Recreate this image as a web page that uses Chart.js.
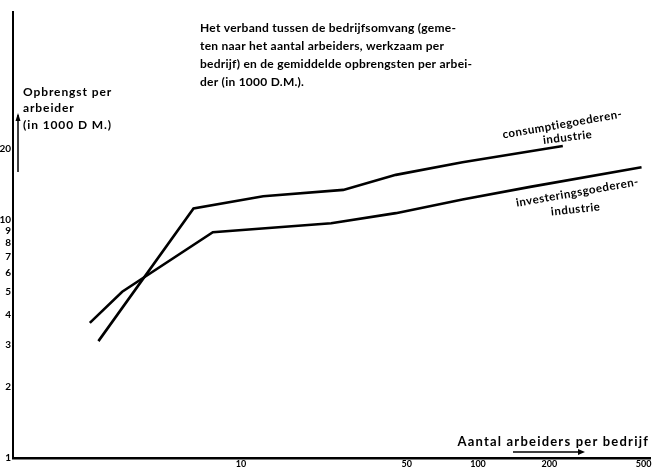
<!DOCTYPE html>
<html>
<head>
<meta charset="utf-8">
<script src="https://cdn.jsdelivr.net/npm/chart.js@4/dist/chart.umd.min.js"></script>
<style>
  body { margin: 0; background: #fff; }
  canvas { display: block; }
</style>
</head>
<body>
<canvas id="myChart" width="652" height="470"></canvas>
<script>
'use strict';

// workers per firm (x) and output per worker in 1000 DM (y)
let cons_x = [2.5, 6.3, 12.4, 27, 45, 86, 228];
let cons_y = [3.1, 11.2, 12.6, 13.4, 15.5, 17.5, 20.5];
let inv_x = [2.3, 3.15, 7.6, 24, 45, 86, 166, 490];
let inv_y = [3.7, 5.0, 8.9, 9.7, 10.7, 12.2, 13.8, 16.7];

let x_ticks = [10, 50, 100, 200, 500];
let y_ticks = [1, 2, 3, 4, 5, 6, 7, 8, 9, 10, 20];

let title_lines = [
  'Het verband tussen de bedrijfsomvang (geme-',
  'ten naar het aantal arbeiders, werkzaam per',
  'bedrijf) en de gemiddelde opbrengsten per arbei-',
  'der (in 1000 D.M.).'
];
let y_title = ['Opbrengst per', 'arbeider', '(in 1000 D M.)'];
let x_title = 'Aantal arbeiders per bedrijf';

function to_points(xs, ys) {
  let pts = [];
  for (let i = 0; i < xs.length; i++) {
    pts.push({x: xs[i], y: ys[i]});
  }
  return pts;
}

let font = 'Lato, "Open Sans", sans-serif';

let text_plugin = {
  id: 'texts',
  afterDraw(chart) {
    let ctx = chart.ctx;
    ctx.save();
    ctx.fillStyle = '#000';
    ctx.strokeStyle = '#000';
    ctx.textBaseline = 'alphabetic';

    // title paragraph
    ctx.font = 'bold 12px ' + font;
    ctx.letterSpacing = '0.25px';
    ctx.textAlign = 'left';
    let ty = [32, 50, 68, 86];
    for (let i = 0; i < title_lines.length; i++) {
      ctx.fillText(title_lines[i], 200, ty[i]);
    }

    // y axis title + arrow
    ctx.font = 'bold 12px ' + font;
    ctx.letterSpacing = '0.9px';
    ctx.fillText(y_title[0], 23, 96);
    ctx.fillText(y_title[1], 23, 112);
    ctx.fillText(y_title[2], 23, 129);
    ctx.lineWidth = 1.5;
    ctx.beginPath();
    ctx.moveTo(18, 172);
    ctx.lineTo(18, 115);
    ctx.stroke();
    ctx.beginPath();
    ctx.moveTo(15.5, 121);
    ctx.lineTo(18, 113);
    ctx.lineTo(20.5, 121);
    ctx.closePath();
    ctx.fill();

    // x axis title + arrow
    ctx.font = 'bold 13px ' + font;
    ctx.letterSpacing = '1.2px';
    ctx.textAlign = 'right';
    ctx.fillText(x_title, 649, 446);
    ctx.beginPath();
    ctx.moveTo(513, 452);
    ctx.lineTo(582, 452);
    ctx.stroke();
    ctx.beginPath();
    ctx.moveTo(578, 449);
    ctx.lineTo(585, 452);
    ctx.lineTo(578, 455);
    ctx.closePath();
    ctx.fill();

    // series labels
    ctx.textAlign = 'center';
    ctx.font = 'bold 11.5px ' + font;
    ctx.letterSpacing = '0.5px';
    let labels = [
      ['consumptiegoederen-', 563, 128, -10],
      ['industrie', 568, 141, -7],
      ['investeringsgoederen-', 578, 196, -10],
      ['industrie', 576, 213, -6]
    ];
    for (let l of labels) {
      ctx.save();
      ctx.translate(l[1], l[2]);
      ctx.rotate(l[3] * Math.PI / 180);
      ctx.fillText(l[0], 0, 0);
      ctx.restore();
    }
    ctx.restore();
  }
};

let ctx = document.getElementById('myChart').getContext('2d');
let myChart = new Chart(ctx, {
  type: 'scatter',
  data: {
    datasets: [{
      label: 'consumptiegoederenindustrie',
      data: to_points(cons_x, cons_y),
      showLine: true,
      borderColor: '#000',
      borderWidth: 2.6,
      pointRadius: 0,
      tension: 0
    }, {
      label: 'investeringsgoederenindustrie',
      data: to_points(inv_x, inv_y),
      showLine: true,
      borderColor: '#000',
      borderWidth: 2.6,
      pointRadius: 0,
      tension: 0
    }]
  },
  options: {
    responsive: false,
    animation: false,
    layout: {padding: {top: 12, right: 2, left: 0, bottom: 0}},
    plugins: {
      legend: {display: false},
      tooltip: {enabled: false}
    },
    scales: {
      x: {
        type: 'logarithmic',
        min: 1.09,
        max: 532,
        grid: {display: false, drawTicks: false},
        border: {display: true, color: '#000', width: 2.5},
        afterBuildTicks: function(s) {
          s.ticks = x_ticks.map(v => ({value: v}));
        },
        afterFit: function(s) {
          s.height = 12;
          s.paddingLeft = 0;
          s.paddingRight = 0;
        },
        ticks: {
          color: '#000',
          padding: 1,
          maxRotation: 0,
          autoSkip: false,
          font: {size: 9, weight: 'bold', family: font},
          callback: v => String(v)
        }
      },
      y: {
        type: 'logarithmic',
        min: 1,
        max: 75,
        grid: {display: false, drawTicks: false},
        border: {display: true, color: '#000', width: 2},
        afterBuildTicks: function(s) {
          s.ticks = y_ticks.map(v => ({value: v}));
        },
        afterFit: function(s) {
          s.width = 13;
          s.paddingTop = 0;
          s.paddingBottom = 0;
        },
        ticks: {
          color: '#000',
          padding: 2,
          autoSkip: false,
          font: {size: 10, weight: 'bold', family: font},
          callback: v => String(v)
        }
      }
    }
  },
  plugins: [text_plugin]
});
</script>
</body>
</html>
